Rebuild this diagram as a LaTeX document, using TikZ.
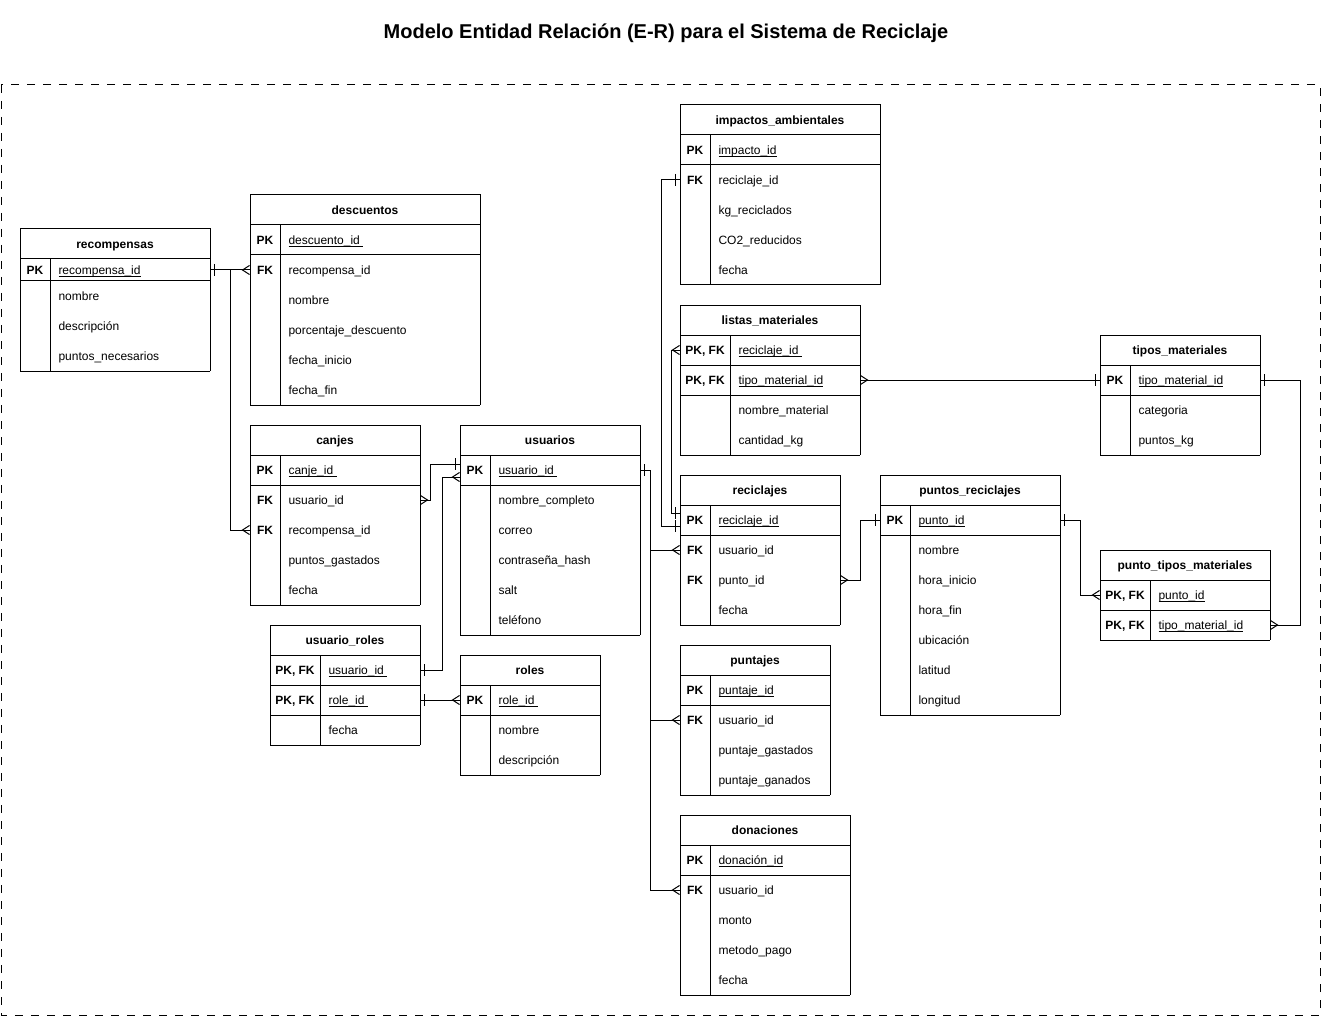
\documentclass[tikz,border=0pt]{standalone}
\usepackage{fontspec}
\setmainfont{Liberation Sans}
\usepackage{tikz}
\usetikzlibrary{positioning,calc}
\def\headh{30}
\def\rowh{30}

% underlined key name, line close under the text
\newcommand{\pkname}[1]{\setbox0\hbox{#1}\rlap{\rule[-2pt]{\wd0}{0.8pt}}\box0}

% one table: [height of first row]{id}{x}{y}{width}{key column}{title}{rows}
\newcommand{\ertable}[8][30]{%
  \node[tablehead, minimum width=#5] (#2) at ({#3+#5/2},{#4+\headh/2}) {#7};
  \foreach \rk/\rf/\rs [count=\i] in {#8} {
    \pgfmathsetmacro{\rtop}{#4+\headh+(\i>1)*(#1+(\i-2)*\rowh)}
    \pgfmathsetmacro{\rh}{(\i==1)*#1+(\i>1)*\rowh}
    \pgfmathsetmacro{\rbot}{\rtop+\rh}
    \node[rowbox, minimum width=#5, minimum height=\rh] (#2-\i) at ({#3+#5/2},{\rtop+\rh/2}) {};
    \node[keytext] at ({#3+#6/2},{\rtop+\rh/2}) {\rk};
    \node[fieldtext] at ({#3+#6+8},{\rtop+\rh/2}) {\rf};
    \draw ({#3},\rtop) -- ({#3},\rbot) ({#3+#6},\rtop) -- ({#3+#6},\rbot) ({#3+#5},\rtop) -- ({#3+#5},\rbot);
    \ifnum\rs=1 \draw ({#3},\rbot) -- ({#3+#5},\rbot); \fi
  }
}

\tikzset{
  onemark/.pic={\draw (-4,-6) -- (-4,6);},
  manymark/.pic={\draw (0,-4.5) -- (-7,0) -- (0,4.5);}
}

\begin{document}
\fontsize{12}{14}\selectfont
\begin{tikzpicture}[x=1pt, y=-1pt, line width=1pt]
	\tikzstyle{tablehead}=[draw, minimum height=\headh, inner sep=0pt, text height=11pt, text depth=2pt, font=\bfseries]
	\tikzstyle{rowbox}=[inner sep=0pt]
	\tikzstyle{keytext}=[inner sep=0pt, text height=11pt, text depth=2pt, font=\bfseries]
	\tikzstyle{fieldtext}=[anchor=west, inner sep=0pt, text height=11pt, text depth=2pt]
	\useasboundingbox (0,0) rectangle (1322,1016);

	% Title and frame
	\node[font=\bfseries\fontsize{20}{24}\selectfont] (title) at (666,33) {Modelo Entidad Relación (E-R) para el Sistema de Reciclaje};
	\draw[dash pattern=on 8pt off 8pt] (1,85) rectangle (1320,1015);

	% Tables on the left
	\ertable[22]{recompensas}{20}{229}{190}{30}{recompensas}{PK/\pkname{recompensa\_id}/1, /nombre/0, /descripción/0, /puntos\_necesarios/1}
	\ertable{descuentos}{250}{195}{230}{30}{descuentos}{PK/\pkname{descuento\_id\ }/1, FK/recompensa\_id/0, /nombre/0, /porcentaje\_descuento/0, /fecha\_inicio/0, /fecha\_fin/1}
	\ertable{canjes}{250}{425}{170}{30}{canjes}{PK/\pkname{canje\_id\ }/1, FK/usuario\_id/0, FK/recompensa\_id/0, /puntos\_gastados/0, /fecha/1}
	\ertable{usuarios}{460}{425}{180}{30}{usuarios}{PK/\pkname{usuario\_id\ }/1, /nombre\_completo/0, /correo/0, /contraseña\_hash/0, /salt/0, /teléfono/1}
	\ertable{usuarioroles}{270}{625}{150}{50}{usuario\_roles}{{PK, FK}/\pkname{usuario\_id\ }/1, {PK, FK}/\pkname{role\_id\ }/1, /fecha/1}
	\ertable{roles}{460}{655}{140}{30}{roles}{PK/\pkname{role\_id\ }/1, /nombre/0, /descripción/1}

	% Tables on the right
	\ertable{impactos}{680}{105}{200}{30}{impactos\_ambientales}{PK/\pkname{impacto\_id}/1, FK/reciclaje\_id/0, /kg\_reciclados/0, /CO2\_reducidos/0, /fecha/1}
	\ertable{listas}{680}{305}{180}{50}{listas\_materiales}{{PK, FK}/\pkname{reciclaje\_id\ }/1, {PK, FK}/\pkname{tipo\_material\_id}/1, /nombre\_material/0, /cantidad\_kg/1}
	\ertable{tipos}{1100}{335}{160}{30}{tipos\_materiales}{PK/\pkname{tipo\_material\_id}/1, /categoria/0, /puntos\_kg/1}
	\ertable{reciclajes}{680}{475}{160}{30}{reciclajes}{PK/\pkname{reciclaje\_id}/1, FK/usuario\_id/0, FK/punto\_id/0, /fecha/1}
	\ertable{puntos}{880}{475}{180}{30}{puntos\_reciclajes}{PK/\pkname{punto\_id}/1, /nombre/0, /hora\_inicio/0, /hora\_fin/0, /ubicación/0, /latitud/0, /longitud/1}
	\ertable{puntotipos}{1100}{550}{170}{50}{punto\_tipos\_materiales}{{PK, FK}/\pkname{punto\_id}/1, {PK, FK}/\pkname{tipo\_material\_id}/1}
	\ertable{puntajes}{680}{645}{150}{30}{puntajes}{PK/\pkname{puntaje\_id}/1, FK/usuario\_id/0, /puntaje\_gastados/0, /puntaje\_ganados/1}
	\ertable{donaciones}{680}{815}{170}{30}{donaciones}{PK/\pkname{donación\_id}/1, FK/usuario\_id/0, /monto/0, /metodo\_pago/0, /fecha/1}

	% Relations of recompensas and usuarios
	\draw (recompensas-1.east) -- (descuentos-2.west);
	\draw (recompensas-1.east) -- ++(20,0) |- (canjes-3.west);
	\draw (canjes-2.east) -- ++(10,0) |- ([yshift=6pt]usuarios-1.west);
	\draw (usuarioroles-1.east) -- ++(22,0) |- ([yshift=-7pt]usuarios-1.west);
	\draw (usuarioroles-2.east) -- (roles-1.west);
	\foreach \dest in {reciclajes, puntajes, donaciones}
	\draw (usuarios-1.east) -- ++(10,0) |- (\dest-2.west);

	% Relations of reciclajes and materials
	\draw ([yshift=-6pt]reciclajes-1.west) -- ++(-18,0) |- (impactos-2.west);
	\draw ([yshift=7pt]reciclajes-1.west) -- ++(-8,0) |- (listas-1.west);
	\draw (listas-2.east) -- (tipos-1.west);
	\draw (reciclajes-3.east) -- ++(20,0) |- (puntos-1.west);
	\draw (puntos-1.east) -- ++(20,0) |- (puntotipos-1.west);
	\draw (tipos-1.east) -- ++(40,0) |- (puntotipos-2.east);

	% Cardinality marks
	\pic[xscale=-1] at (recompensas-1.east) {onemark};
	\pic at (descuentos-2.west) {manymark};
	\pic at (canjes-3.west) {manymark};
	\pic[xscale=-1] at (canjes-2.east) {manymark};
	\pic at ([yshift=6pt]usuarios-1.west) {onemark};
	\pic[xscale=-1] at (usuarioroles-1.east) {onemark};
	\pic at ([yshift=-7pt]usuarios-1.west) {manymark};
	\pic[xscale=-1] at (usuarioroles-2.east) {onemark};
	\pic at (roles-1.west) {manymark};
	\pic[xscale=-1] at (usuarios-1.east) {onemark};
	\foreach \dest in {reciclajes, puntajes, donaciones}
	\pic at (\dest-2.west) {manymark};
	\pic at ([yshift=-6pt]reciclajes-1.west) {onemark};
	\pic at (impactos-2.west) {onemark};
	\pic at ([yshift=7pt]reciclajes-1.west) {onemark};
	\pic at (listas-1.west) {manymark};
	\pic[xscale=-1] at (listas-2.east) {manymark};
	\pic at (tipos-1.west) {onemark};
	\pic[xscale=-1] at (reciclajes-3.east) {manymark};
	\pic at (puntos-1.west) {onemark};
	\pic[xscale=-1] at (puntos-1.east) {onemark};
	\pic at (puntotipos-1.west) {manymark};
	\pic[xscale=-1] at (tipos-1.east) {onemark};
	\pic[xscale=-1] at (puntotipos-2.east) {manymark};
\end{tikzpicture}
\end{document}
